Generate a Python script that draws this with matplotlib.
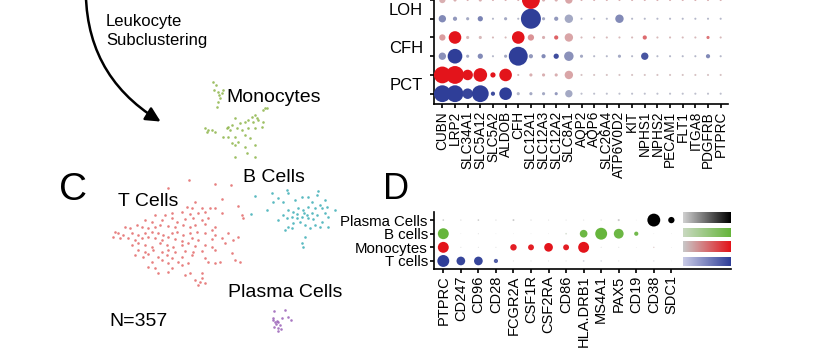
import numpy as np
import matplotlib
matplotlib.use('Agg')
from matplotlib import pyplot as plt
from matplotlib.colors import LinearSegmentedColormap
from matplotlib.patches import FancyArrowPatch

plt.rcParams['font.family'] = ['Liberation Sans', 'DejaVu Sans']

# ---------------- panel C : leukocyte UMAP ----
t_x = [189,215,231,168, 222,195,238, 187,192,202,210,215,
       155,165,172,182,190,198,205,222,242,243,
       145,152,162,172,177,185,193,202,208,
       125,130,137,142,148,155,160,168,175,183,190,195,205,215,212,
       115,118,123,132,138,145,152,158,163,172,177,183,190,197,205,215,228,
       113,120,128,135,142,148,155,162,168,175,182,192,198,212,222,238,233,
       132,138,145,152,160,167,173,182,188,195,205,212,225,
       138,145,153,162,168,175,185,193,202,215,
       135,143,148,158,167,172,182,192,205,232,
       152,162,168,178,188,208,215,220,235,240,
       148,155,172,182, 158,168,185,190,202, 195,200,202,205,198]
t_y = [180,184,185,188, 199,202,206, 207,208,208,208,208,
       215,215,213,212,214,213,212,213,215,218,
       220,222,220,218,222,219,218,220,218,
       227,228,225,227,228,227,225,226,227,225,227,225,224,227,230,
       232,233,235,233,235,233,232,233,235,233,232,235,233,232,233,235,233,
       237,238,238,240,238,237,238,240,237,239,241,238,240,239,238,237,240,
       245,243,245,247,243,245,247,245,243,246,245,247,243,
       250,252,250,252,250,252,251,252,251,250,
       255,257,254,257,255,258,257,255,258,253,
       262,260,263,262,263,262,263,262,260,262,
       267,268,268,265, 273,272,275,273,273, 280,282,278,283,285]

m_x = [213,216,214,218,219,222,220,218,223,217, 265,263,267,
       255,252,257,248,258,253,245,240,235,232,228,227,230,237,242,248,255,262,263,
       205,208,207,212,215, 223,228,235,245,250, 232,235,238,245,255, 235,255,247]
m_y = [82,85,90,92,95,93,98,102,90,107, 108,110,108,
       115,117,118,120,120,122,122,123,118,125,127,128,130,128,130,128,128,127,122,
       128,130,132,130,132, 137,137,137,135,138, 143,145,142,147,145, 157,157,153]

b_x = [255,251,267,272,287,288,278,283,273,295, 302,308,318,317,325,312,320,327,335,322,
       315,308,303,298,293,288,283,287,292,297, 302,307,312,317,325,328,300,293,288,285,
       278,305,310,315,320,328,305,302,303,292, 297,304,308,313,322]
b_y = [196,214,210,193,190,193,198,202,202,200, 197,197,191,195,200,202,205,207,210,208,
       208,207,210,208,212,210,215,218,217,218, 217,215,213,215,213,217,222,223,227,230,
       220,225,228,225,227,227,237,243,247,228, 214,213,218,219,222]

p_x = [273,275,277,278,276,274,280,282,288,291,278,281,278,273,274,285]
p_y = [320,322,321,322,324,327,325,318,317,320,328,329,331,318,311,310]

# ---------------- top dot plot (kidney markers, split rows) ----------------
top_genes = ["CUBN", "LRP2", "SLC34A1", "SLC5A12", "SLC5A2", "ALDOB", "CFH",
             "SLC12A1", "SLC12A3", "SLC12A2", "SLC8A1", "AQP2", "AQP6", "SLC26A4",
             "ATP6V0D2", "KIT", "NPHS1", "NPHS2", "PECAM1", "FLT1", "ITGA8",
             "PDGFRB", "PTPRC"]
top_groups = ["PCT", "CFH", "LOH"]

# percent expressed (bottom row first), blue / red rows alternate
pct_PCT_b = [80,80,50,80,20,60,15,15,15,15,35,10,10,10,10,10,10,10,10,10,10,10,10]
pct_PCT_r = [80,85,50,65,25,60,10,15,15,15,40,10,10,10,10,10,10,10,10,10,10,10,10]
pct_CFH_b = [35,70,15,25,10,15,90,20,20,25,45,15,10,10,15,10,35,10,10,10,10,20,10]
pct_CFH_r = [30,60,15,15,10,10,60,30,15,20,40,10,10,10,10,10,20,10,10,10,10,15,10]
pct_LOH_b = [35,20,15,25,10,15,10,95,15,20,40,10,10,10,40,10,10,10,10,10,10,10,10]
pct_LOH_r = [30,15,10,15,10,10,10,85,15,15,35,10,10,10,10,10,10,10,10,10,10,10,10]

exp_PCT_b = [1,1,.95,1,.9,1,.2,.3,.3,.4,.3,.15,.15,.15,.15,.15,.15,.15,.15,.15,.15,.15,.15]
exp_PCT_r = [1,1,1,1,1,1,.15,.2,.2,.2,.25,.1,.1,.1,.1,.1,.1,.1,.1,.1,.1,.1,.1]
exp_CFH_b = [.45,1,.3,.5,.2,.3,1,.4,.5,.9,.45,.3,.2,.2,.3,.2,.85,.2,.2,.2,.2,.5,.2]
exp_CFH_r = [.3,1,.15,.15,.15,.15,1,.35,.2,.6,.25,.15,.15,.15,.15,.15,.55,.15,.15,.15,.15,.5,.15]
exp_LOH_b = [.5,.4,.3,.55,.2,.3,.2,1,.3,.4,.3,.2,.2,.2,.5,.2,.2,.2,.2,.2,.2,.2,.2]
exp_LOH_r = [.2,.2,.2,.2,.2,.2,.2,1,.2,.2,.25,.2,.2,.2,.2,.2,.2,.2,.2,.2,.2,.2,.2]

# ---------------- panel D : leukocyte markers ----------------
d_genes = ["PTPRC", "CD247", "CD96", "CD28", "FCGR2A", "CSF1R", "CSF2RA", "CD86",
           "HLA.DRB1", "MS4A1", "PAX5", "CD19", "CD38", "SDC1"]
d_cells = ["T cells", "Monocytes", "B cells", "Plasma Cells"]
d_pct_T = [85,62,62,30,8,8,8,8,12,10,8,5,8,5]
d_pct_M = [78,8,8,8,46,42,62,42,78,8,8,5,10,5]
d_pct_B = [78,5,8,5,5,5,5,12,55,85,70,30,5,5]
d_pct_P = [12,10,12,10,14,10,8,8,8,10,15,5,92,45]
d_exp_T = [1,.95,.95,.8,0,0,0,0,.1,.1,0,0,.1,0]
d_exp_M = [1,0,0,0,.95,.95,1,.95,1,0,0,0,.1,0]
d_exp_B = [1,0,0,0,0,0,0,.1,.95,1,.95,.9,0,0]
d_exp_P = [.1,0,.1,0,.1,0,0,0,0,0,.1,0,1,1]

blue = "#2f3e98"
red = "#e3141b"
green = "#66b53c"
black = "#000000"

def cmap_to(c, base="#d6d6d6"):
    return LinearSegmentedColormap.from_list("g", [base, c])

fig = plt.figure(figsize=(8.33, 3.55), dpi=100)

# background axes in pixel units for the UMAP panel and annotations
bg = fig.add_axes([0, 0, 1, 1])
bg.set_xlim(0, 833)
bg.set_ylim(355, 0)
bg.axis('off')

bg.scatter(t_x, t_y, s=3.5, color="#e36a6a", alpha=0.85, linewidths=0)
bg.scatter(m_x, m_y, s=3.5, color="#8db54a", alpha=0.85, linewidths=0)
bg.scatter(b_x, b_y, s=3.5, color="#3eaeb6", alpha=0.85, linewidths=0)
bg.scatter(p_x, p_y, s=3.5, color="#9a62b8", alpha=0.85, linewidths=0)

bg.text(226, 101.5, "Monocytes", fontsize=14)
bg.text(243, 181.5, "B Cells", fontsize=14)
bg.text(118, 206.5, "T Cells", fontsize=14)
bg.text(228, 297, "Plasma Cells", fontsize=14)
bg.text(109, 326.5, "N=357", fontsize=14)
bg.text(59, 200, "C", fontsize=28)
bg.text(383, 199, "D", fontsize=26)
bg.text(106, 26, "Leukocyte", fontsize=12)
bg.text(106, 45, "Subclustering", fontsize=12)

arr = FancyArrowPatch((86, -20), (163, 123), arrowstyle='-|>', mutation_scale=22,
                      lw=1.8, color='black', connectionstyle='arc3,rad=0.3')
bg.add_patch(arr)

# ---- top dot plot ----
ax1 = fig.add_axes([434/833, (355-104)/355, 294/833, 104/355])
rows_pct = [pct_PCT_b, pct_PCT_r, pct_CFH_b, pct_CFH_r, pct_LOH_b, pct_LOH_r]
rows_exp = [exp_PCT_b, exp_PCT_r, exp_CFH_b, exp_CFH_r, exp_LOH_b, exp_LOH_r]
xs = np.arange(len(top_genes))
for i, (pc, ex) in enumerate(zip(rows_pct, rows_exp)):
    cm = cmap_to(blue if i % 2 == 0 else red)
    d = np.array(pc) * 0.21          # diameter in px
    ax1.scatter(xs, np.full(len(xs), i), s=(d*0.72)**2, c=ex, cmap=cm,
                vmin=0, vmax=1, linewidths=0, clip_on=False, zorder=3)
ax1.set_xlim(-0.66, 22.58)
ax1.set_ylim(-0.55, 4.65)
ax1.set_xticks(xs)
ax1.set_xticklabels(top_genes, rotation=90, fontsize=9.8)
ax1.set_yticks(range(6))
ax1.set_yticklabels([])
ax1.set_yticks([0.5, 2.5, 4.5], minor=True)
ax1.set_yticklabels(top_groups, minor=True, fontsize=12)
ax1.tick_params(axis='y', which='minor', length=0, pad=8)
ax1.tick_params(axis='both', which='major', length=3, width=1.2, pad=2)
for s in ['top', 'right']:
    ax1.spines[s].set_visible(False)
for s in ['left', 'bottom']:
    ax1.spines[s].set_linewidth(1.2)

# ---- panel D dot plot ----
ax2 = fig.add_axes([434/833, (355-269)/355, 297/833, 57.5/355])
d_pct = [d_pct_T, d_pct_M, d_pct_B, d_pct_P]
d_exp = [d_exp_T, d_exp_M, d_exp_B, d_exp_P]
d_cols = [blue, red, green, black]
xd = np.arange(len(d_genes))
for i in range(4):
    d = np.array(d_pct[i]) * 0.14
    ax2.scatter(xd, np.full(len(xd), i), s=(d*0.72)**2, c=d_exp[i],
                cmap=cmap_to(d_cols[i], "#e2e2e2"), vmin=0, vmax=1,
                linewidths=0, zorder=3)
grad = np.linspace(0, 1, 100).reshape(1, -1)
bar_y = [(-0.37, 0.29), (0.66, 1.4), (1.77, 2.43), (2.8, 3.54)]
bar_base = ["#c9cbe6", "#c8c8c8", "#c9d9c0", "#d0d0d0"]
for i in range(4):
    ax2.imshow(grad, cmap=cmap_to(d_cols[i], bar_base[i]), aspect='auto',
               extent=(13.68, 16.4, bar_y[i][0], bar_y[i][1]), zorder=2)
ax2.set_xlim(-0.53, 16.4)
ax2.set_ylim(-0.59, 3.63)
ax2.set_xticks(xd)
ax2.set_xticklabels(d_genes, rotation=90, fontsize=10.5)
ax2.set_yticks(range(4))
ax2.set_yticklabels(d_cells, fontsize=10.8)
ax2.tick_params(axis='both', length=3, width=1.2, pad=1.5)
for s in ['top', 'right']:
    ax2.spines[s].set_visible(False)
for s in ['left', 'bottom']:
    ax2.spines[s].set_linewidth(1.2)

fig.savefig("out.png", dpi=100)
